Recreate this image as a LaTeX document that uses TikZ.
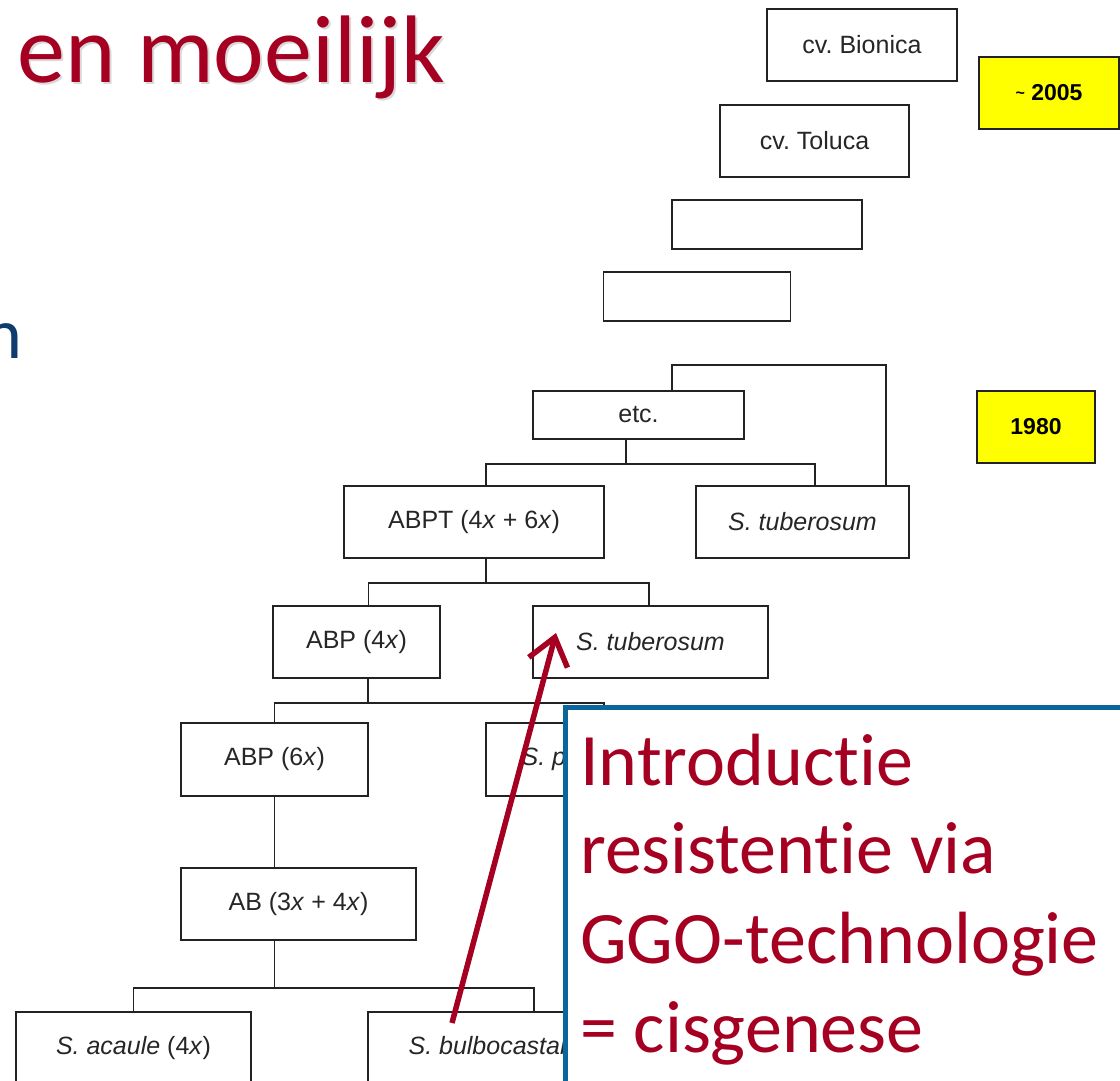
\documentclass[tikz,border=0pt]{standalone}
\usepackage{fontspec}
\setmainfont{Liberation Sans}
\newfontfamily\slidefont[RawFeature={-liga}]{Carlito}
\usetikzlibrary{arrows.meta}
\definecolor{slidered}{HTML}{A50021}
\definecolor{slideblue}{HTML}{0B669C}
\definecolor{slidenavy}{HTML}{0E3C6E}
\definecolor{boxline}{HTML}{222222}
\definecolor{yearyellow}{HTML}{FFFF00}
\begin{document}
\frenchspacing
\begin{tikzpicture}[x=1pt,y=-1pt,
  gbox/.style={draw=boxline, line width=1.6pt, fill=white, inner sep=0pt, font=\fontsize{25}{30}\selectfont, text=black!85},
  ybox/.style={gbox, fill=yearyellow, font=\fontsize{23}{28}\selectfont\bfseries, text=black},
  link/.style={draw=boxline, line width=1.6pt},
  bigtxt/.style={font=\slidefont\fontsize{74}{88}\selectfont, text=slidered, inner sep=0pt, anchor=base west},
]
\useasboundingbox (0,0) rectangle (1120,1080);

% title fragments
\node[font=\slidefont\fontsize{96}{110}\selectfont, text=black!15, inner sep=0pt, anchor=base west] (titleshadow) at (19,84) {en moeilijk};
\node[font=\slidefont\fontsize{96}{110}\selectfont, text=slidered, inner sep=0pt, anchor=base west] (title) at (17,82) {en moeilijk};
\node[font=\slidefont\fontsize{72}{86}\selectfont, text=slidenavy, inner sep=0pt, anchor=base east] (navyn) at (23,358) {n};

% boxes
\node[gbox, minimum width=190pt, minimum height=72pt] (bionica) at (862,45) {cv. Bionica};
\node[ybox, minimum width=140pt, minimum height=72pt] (y2005) at (1049,93) {\fontsize{16}{20}\selectfont\raisebox{2pt}{\char`\~}\fontsize{23}{28}\selectfont\ 2005};
\node[gbox, minimum width=189pt, minimum height=72pt] (toluca) at (814.5,141) {cv. Toluca};
\node[gbox, minimum width=190pt, minimum height=49pt] (blankA) at (767,224.5) {};
\node[gbox, minimum width=187pt, minimum height=49pt] (blankB) at (697,296.5) {};
\node[gbox, minimum width=211pt, minimum height=48pt] (etc) at (638.5,415) {etc.};
\node[ybox, minimum width=118pt, minimum height=72pt] (y1980) at (1036,427) {1980};
\node[gbox, minimum width=260pt, minimum height=72pt] (abpt) at (474,522) {ABPT (4\textit{x} + 6\textit{x})};
\node[gbox, minimum width=213pt, minimum height=72pt] (stubA) at (802.5,522) {\textit{S. tuberosum}};
\node[gbox, minimum width=167pt, minimum height=72pt] (abpfour) at (356.5,642) {ABP (4\textit{x})};
\node[gbox, minimum width=235pt, minimum height=72pt] (stubB) at (650.5,642) {\textit{S. tuberosum}};
\node[gbox, minimum width=187pt, minimum height=73pt] (abpsix) at (274.5,759.5) {ABP (6\textit{x})};
\node[gbox, minimum width=236pt, minimum height=73pt] (phureja) at (604,759.5) {\textit{S. phureja} (2\textit{x})};
\node[gbox, minimum width=235pt, minimum height=72pt] (ab) at (298.5,904) {AB (3\textit{x} + 4\textit{x})};
\node[gbox, minimum width=235pt, minimum height=72pt] (acaule) at (133.5,1048) {\textit{S. acaule} (4\textit{x})};
\node[gbox, minimum width=332pt, minimum height=72pt] (bulbo) at (534,1048) {\textit{S. bulbocastanum} (2\textit{x})};

% connectors
\draw[link] ([xshift=33.5pt]etc.north) -- ++(0,-25) -| ([xshift=-24pt]stubA.north east);
\draw[link] ([xshift=-12.5pt]etc.south) -- ++(0,24) coordinate (mA);
\draw[link] ([xshift=12pt]abpt.north) |- (mA) -| ([xshift=12.5pt]stubA.north);
\draw[link] ([xshift=12pt]abpt.south) -- ++(0,24) coordinate (mB);
\draw[link] ([xshift=12pt]abpfour.north) |- (mB) -| ([xshift=-1.5pt]stubB.north);
\draw[link] ([xshift=11.5pt]abpfour.south) -- ++(0,24) coordinate (mC);
\draw[link] (abpsix.north) |- (mC) -| (phureja.north);
\draw[link] (abpsix.south) -- (abpsix.south |- ab.north);
\draw[link] (abpsix.south |- ab.south) -- ++(0,47) coordinate (mD);
\draw[link] (acaule.north) |- (mD) -| (bulbo.north);

% red arrow
\coordinate (arrowtail) at (452,1023);
\coordinate (arrowtip) at (556,633);
\draw[slidered, line width=5.5pt, -{Straight Barb[length=26pt,width=40pt]}] (arrowtail) -- (arrowtip);

% callout box
\node[draw=slideblue, line width=5pt, fill=white, inner sep=0pt, minimum width=580pt, minimum height=400pt, anchor=north west] (callout) at (563,704.5) {};
\node[bigtxt] (lineA) at (580,785) {Introductie};
\node[bigtxt] (lineB) at (580,873) {resistentie via};
\node[bigtxt] (lineC) at (580,963) {GGO-technologie};
\node[bigtxt] (lineD) at (580,1052) {= cisgenese};
\end{tikzpicture}
\end{document}
